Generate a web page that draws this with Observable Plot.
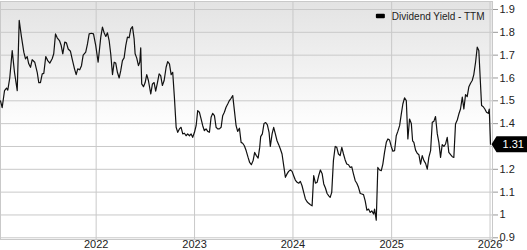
<!DOCTYPE html>
<html><head><meta charset="utf-8">
<script src="https://cdn.jsdelivr.net/npm/d3@7"></script>
<script src="https://cdn.jsdelivr.net/npm/@observablehq/plot@0.6"></script>
<style>body{margin:0;background:#fff}#chart svg{overflow:visible}</style>
</head><body><div id="chart"></div>
<script>
// Decimal years (date of each observation) and the dividend yield (TTM, %)
const years = [
2021.028,2021.045,2021.069,2021.089,2021.102,2021.122,2021.147,2021.170,2021.198,2021.218,
2021.241,2021.265,2021.282,2021.299,2021.315,2021.333,2021.350,2021.376,2021.401,2021.417,
2021.434,2021.452,2021.468,2021.488,2021.508,2021.529,2021.553,2021.569,2021.587,2021.604,
2021.627,2021.645,2021.661,2021.681,2021.698,2021.716,2021.739,2021.756,2021.780,2021.797,
2021.813,2021.833,2021.851,2021.868,2021.894,2021.912,2021.929,2021.952,2021.973,2021.996,
2022.020,2022.047,2022.064,2022.081,2022.098,2022.115,2022.132,2022.148,2022.166,2022.183,
2022.199,2022.216,2022.234,2022.250,2022.267,2022.284,2022.301,2022.318,2022.335,2022.352,
2022.369,2022.386,2022.396,2022.412,2022.430,2022.443,2022.453,2022.463,2022.481,2022.498,
2022.514,2022.531,2022.555,2022.572,2022.589,2022.605,2022.623,2022.640,2022.656,2022.673,
2022.691,2022.711,2022.727,2022.745,2022.762,2022.778,2022.795,2022.813,2022.829,2022.846,
2022.863,2022.880,2022.897,2022.914,2022.930,2022.948,2022.965,2022.981,2022.999,2023.016,
2023.032,2023.049,2023.067,2023.083,2023.100,2023.117,2023.134,2023.151,2023.168,2023.184,
2023.202,2023.219,2023.235,2023.252,2023.270,2023.286,2023.303,2023.320,2023.337,2023.354,
2023.371,2023.388,2023.405,2023.422,2023.438,2023.456,2023.473,2023.489,2023.506,2023.524,
2023.544,2023.560,2023.577,2023.595,2023.611,2023.628,2023.646,2023.662,2023.672,2023.689,
2023.706,2023.723,2023.740,2023.757,2023.770,2023.788,2023.804,2023.821,2023.838,2023.855,
2023.872,2023.889,2023.906,2023.923,2023.940,2023.956,2023.974,2023.991,2024.007,2024.024,
2024.042,2024.058,2024.075,2024.092,2024.109,2024.126,2024.143,2024.159,2024.177,2024.194,
2024.210,2024.228,2024.245,2024.261,2024.278,2024.296,2024.312,2024.329,2024.346,2024.363,
2024.377,2024.393,2024.410,2024.428,2024.444,2024.461,2024.478,2024.495,2024.512,2024.529,
2024.545,2024.563,2024.580,2024.596,2024.613,2024.631,2024.647,2024.664,2024.682,2024.698,
2024.715,2024.732,2024.749,2024.766,2024.783,2024.799,2024.817,2024.827,2024.844,2024.860,
2024.878,2024.895,2024.911,2024.928,2024.946,2024.962,2024.979,2024.996,2025.013,2025.030,
2025.047,2025.063,2025.081,2025.098,2025.114,2025.131,2025.149,2025.165,2025.182,2025.200,
2025.213,2025.226,2025.243,2025.260,2025.277,2025.294,2025.311,2025.328,2025.345,2025.362,
2025.378,2025.396,2025.413,2025.429,2025.446,2025.464,2025.480,2025.497,2025.514,2025.531,
2025.548,2025.565,2025.581,2025.599,2025.616,2025.632,2025.649,2025.667,2025.683,2025.700,
2025.718,2025.734,2025.751,2025.768,2025.785,2025.802,2025.819,2025.835,2025.853,2025.870,
2025.886,2025.903,2025.914,2025.931,2025.947,2025.964,2025.982,2025.992,2026.005
];
const yields = [
1.50,1.47,1.545,1.556,1.547,1.60,1.72,1.625,1.545,1.852,
1.78,1.713,1.684,1.694,1.662,1.647,1.68,1.669,1.625,1.58,
1.58,1.618,1.62,1.694,1.676,1.665,1.684,1.706,1.793,1.776,
1.764,1.742,1.706,1.757,1.754,1.727,1.717,1.684,1.64,1.615,
1.64,1.636,1.654,1.70,1.713,1.749,1.793,1.796,1.793,1.742,
1.669,1.779,1.823,1.798,1.782,1.798,1.764,1.706,1.615,1.669,
1.665,1.625,1.60,1.632,1.676,1.688,1.742,1.779,1.776,1.815,
1.825,1.771,1.706,1.688,1.654,1.669,1.732,1.574,1.562,1.58,
1.615,1.589,1.53,1.574,1.58,1.542,1.58,1.618,1.61,1.567,
1.589,1.647,1.672,1.662,1.615,1.625,1.516,1.384,1.362,1.377,
1.384,1.355,1.358,1.347,1.355,1.347,1.355,1.34,1.362,1.391,
1.457,1.45,1.42,1.391,1.369,1.377,1.366,1.362,1.428,1.445,
1.435,1.384,1.377,1.377,1.384,1.435,1.45,1.472,1.486,1.501,
1.511,1.523,1.457,1.391,1.366,1.38,1.318,1.314,1.303,1.282,
1.252,1.23,1.22,1.238,1.274,1.26,1.249,1.296,1.343,1.355,
1.401,1.405,1.395,1.362,1.30,1.355,1.384,1.355,1.325,1.308,
1.289,1.267,1.216,1.165,1.18,1.191,1.197,1.191,1.172,1.153,
1.143,1.139,1.147,1.128,1.099,1.07,1.058,1.051,1.045,1.04,
1.172,1.139,1.143,1.172,1.197,1.18,1.136,1.118,1.094,1.084,
1.077,1.099,1.238,1.30,1.296,1.267,1.26,1.296,1.267,1.241,
1.223,1.22,1.208,1.211,1.18,1.15,1.139,1.121,1.094,1.092,
1.089,1.062,1.021,1.026,1.011,1.018,1.004,1.026,0.977,1.208,
1.197,1.194,1.223,1.274,1.318,1.333,1.328,1.30,1.279,1.282,
1.347,1.366,1.391,1.442,1.486,1.513,1.501,1.333,1.42,1.401,
1.325,1.318,1.284,1.27,1.264,1.223,1.26,1.238,1.226,1.201,
1.252,1.282,1.406,1.41,1.431,1.355,1.318,1.252,1.308,1.30,
1.311,1.34,1.274,1.264,1.255,1.252,1.398,1.416,1.442,1.464,
1.516,1.464,1.527,1.518,1.562,1.577,1.589,1.615,1.669,1.735,
1.72,1.574,1.479,1.474,1.464,1.45,1.445,1.464,1.31
];
const xTickYears = [2022, 2023, 2024, 2025, 2026];
const yTicks = [0.9, 1.0, 1.1, 1.2, 1.3, 1.4, 1.5, 1.6, 1.7, 1.8, 1.9];
const xDomainYears = [2021.028, 2026.025];
const yDomain = [0.8925, 1.935];
const seriesLabel = "Dividend Yield - TTM";

function toDate(y) {
  const yr = Math.floor(y);
  const s = Date.UTC(yr, 0, 1), e = Date.UTC(yr + 1, 0, 1);
  return new Date(s + (y - yr) * (e - s));
}
const data = years.map((t, i) => ({date: toDate(t), value: yields[i]}));
const last = data[data.length - 1];
const xTicks = xTickYears.map(y => new Date(Date.UTC(y, 0, 1)));
const lastLabel = d3.format(".2f")(last.value);
// the value tag covers the tick label nearest to the last value
const hiddenTick = yTicks.reduce((a, b) => Math.abs(b - last.value) < Math.abs(a - last.value) ? b : a);
const yFmt = d => (d === hiddenTick ? "" : d3.format("~g")(d));

// pointer-shaped value tag (tip at the data point)
const tagSymbol = {
  draw(ctx) {
    ctx.moveTo(1, 0);
    ctx.lineTo(6, -8);
    ctx.lineTo(40, -8);
    ctx.lineTo(40, 8);
    ctx.lineTo(6, 8);
    ctx.closePath();
  }
};

const grid = "#c9c9c9";
const chart = Plot.plot({
  width: 527,
  height: 250,
  marginLeft: 0,
  marginRight: 35,
  marginTop: 1,
  marginBottom: 11,
  style: {fontFamily: "'Liberation Sans', Arial, sans-serif", fontSize: "11px", color: "#222", background: "#fff"},
  x: {type: "utc", domain: xDomainYears.map(toDate), label: null},
  y: {domain: yDomain, label: null},
  marks: [
    Plot.frame({fill: "url(#bgGrad)"}),
    Plot.gridX(xTicks, {stroke: grid, strokeOpacity: 1}),
    Plot.gridY(yTicks, {stroke: grid, strokeOpacity: 1}),
    Plot.frame({stroke: grid}),
    Plot.axisX(xTicks, {tickSize: 0, tickPadding: 1, tickFormat: d3.utcFormat("%Y"), fontSize: 11}),
    Plot.axisY(yTicks, {anchor: "right", tickSize: 5, tickPadding: 2, tickFormat: yFmt, stroke: "#999", fill: "#222", fontSize: 11}),
    Plot.line(data, {x: "date", y: "value", stroke: "#111", strokeWidth: 1.2}),
    Plot.dot([last], {x: "date", y: "value", symbol: tagSymbol, fill: "#000", stroke: "none", r: 5}),
    Plot.text([last], {x: "date", y: "value", text: () => lastLabel, dx: 12, textAnchor: "start", fill: "#fff", fontSize: 11}),
    Plot.text([seriesLabel], {frameAnchor: "top-right", dx: -8, dy: 11, textAnchor: "end", fill: "#222", fontSize: 10})
  ]
});
document.getElementById("chart").append(chart);

const svg = d3.select(chart);
const defs = svg.insert("defs", ":first-child");
const g = defs.append("linearGradient").attr("id", "bgGrad").attr("x1", 0).attr("y1", 0).attr("x2", 0).attr("y2", 1);
g.append("stop").attr("offset", "0%").attr("stop-color", "#e3e3e3");
g.append("stop").attr("offset", "55%").attr("stop-color", "#ffffff");
g.append("stop").attr("offset", "100%").attr("stop-color", "#ffffff");

// legend swatch placed just left of the legend text
const svgBox = chart.getBoundingClientRect();
svg.selectAll("text").filter(function() { return this.textContent === seriesLabel; }).each(function() {
  const b = this.getBoundingClientRect();
  const x = b.left - svgBox.left, y = b.top - svgBox.top;
  svg.append("rect").attr("x", x - 16).attr("y", y + b.height / 2 - 2.25)
    .attr("width", 9).attr("height", 4.5).attr("rx", 1).attr("fill", "#000");
});
</script>
</body></html>
